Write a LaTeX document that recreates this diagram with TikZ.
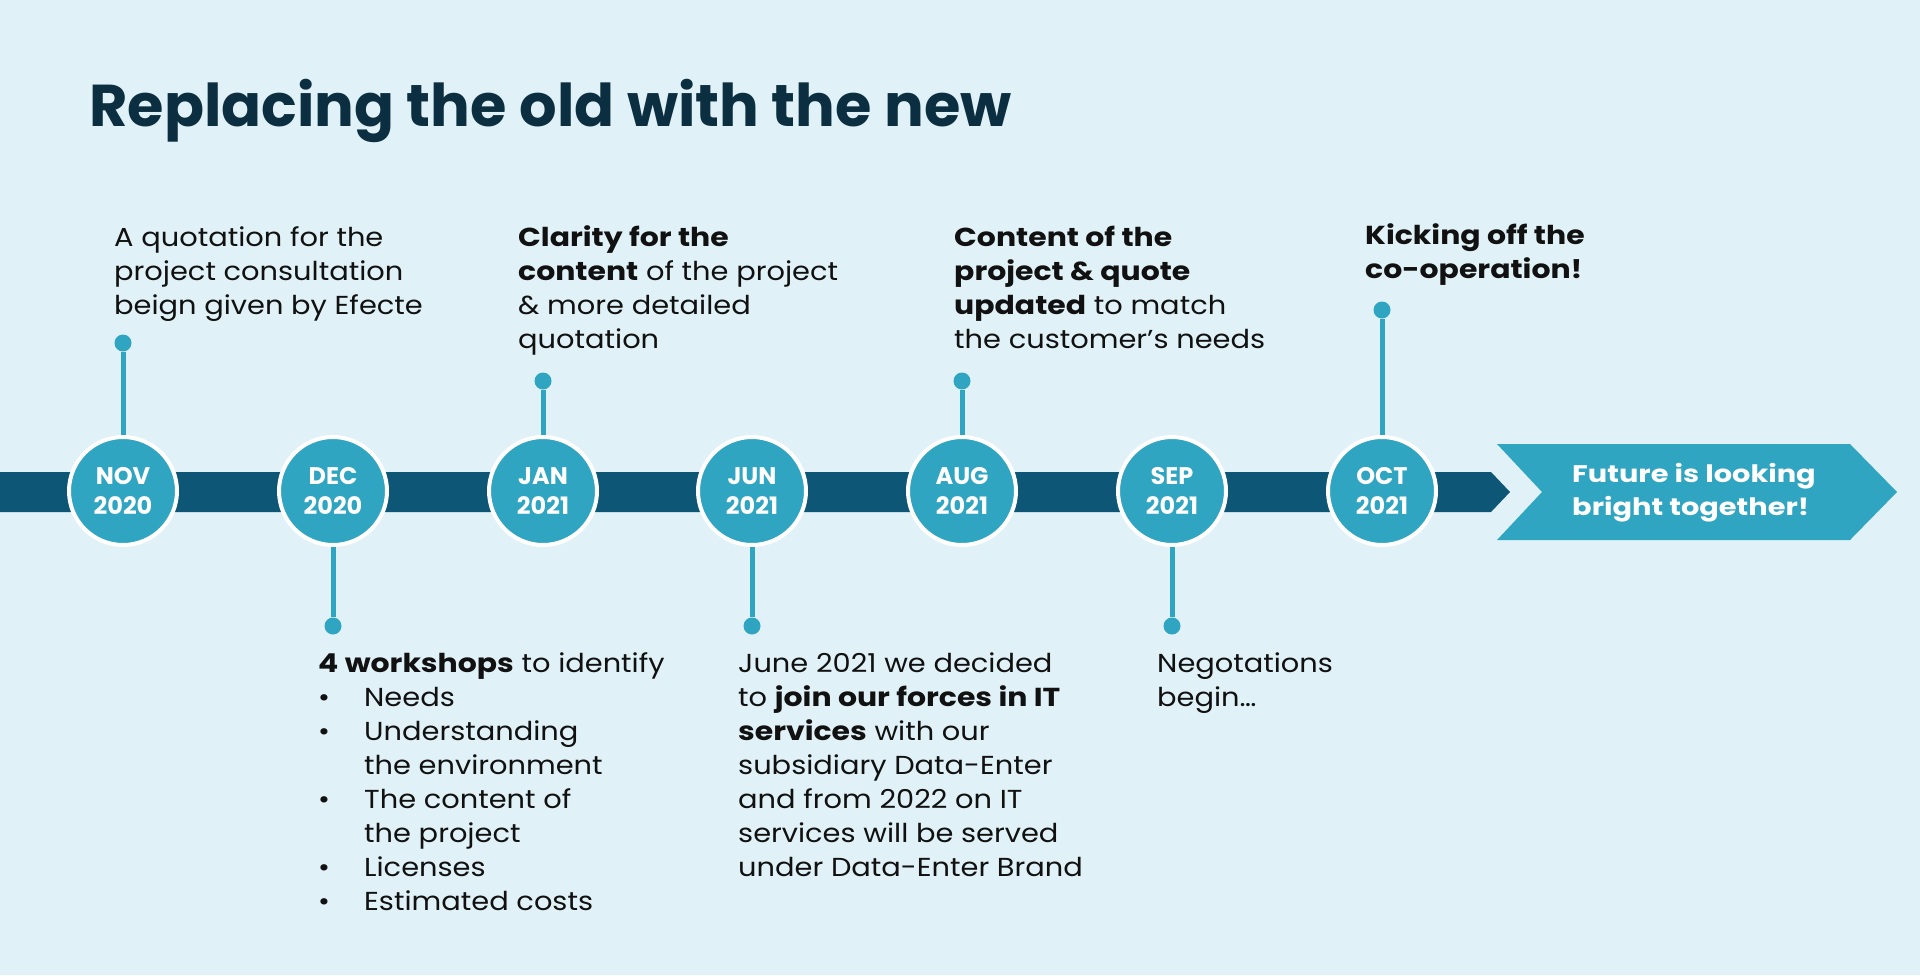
\documentclass[tikz,border=0pt]{standalone}
\usepackage{fontspec}
\setmainfont{Poppins}[FakeStretch=1.11,BoldFeatures={FakeStretch=1.15}]
\newfontfamily\headfont{Poppins}
\newfontfamily\futurefont{Poppins}[FakeStretch=1.2]
\usepackage{xcolor}
\usetikzlibrary{positioning}
\definecolor{bgblue}{HTML}{E0F2F7}
\definecolor{barblue}{HTML}{0E5675}
\definecolor{dotblue}{HTML}{2FA5C2}
\definecolor{titleblue}{HTML}{0B2F40}
\definecolor{ink}{HTML}{111111}
\newcommand{\itm}{\makebox[46pt][l]{\textbullet}}
\newcommand{\ind}{\makebox[46pt][l]{}}

\begin{document}
\begin{tikzpicture}[x=1pt,y=-1pt,
  month/.style={circle,fill=dotblue,draw=white,line width=4pt,minimum size=108pt,inner sep=0pt,
    text=white,align=center,font=\headfont\bfseries\fontsize{24}{30}\selectfont},
  pin/.style={circle,fill=dotblue,minimum size=17pt,inner sep=0pt},
  stem/.style={draw=dotblue,line width=5pt},
  note/.style={anchor=north west,inner sep=0pt,align=left,text=ink,font=\fontsize{26}{34}\selectfont}]
  \path[use as bounding box,fill=bgblue] (0,0) rectangle (1920,975);
  \node[anchor=base west,inner sep=0pt,text=titleblue,font=\headfont\bfseries\fontsize{59}{72}\selectfont] (title) at (89,126.7) {Replacing the old with the new};
  % timeline bar and the closing chevron
  \fill[barblue] (0,472) -- (1491,472) -- (1510,492) -- (1491,512) -- (0,512) -- cycle;
  \fill[dotblue] (1497,444) -- (1850,444) -- (1897,492) -- (1850,540) -- (1497,540) -- (1542,492) -- cycle;
  \node[anchor=north west,inner sep=0pt,align=left,text=white,font=\futurefont\bfseries\fontsize{24}{33}\selectfont] (future) at (1572,458.9) {\strut Future is looking\\bright together!};
  % months
  \node[month] (nov) at (123,491) {NOV\\2020};
  \node[month] (dec) at (333,491) {DEC\\2020};
  \node[month] (jan) at (543,491) {JAN\\2021};
  \node[month] (jun) at (752,491) {JUN\\2021};
  \node[month] (aug) at (962,491) {AUG\\2021};
  \node[month] (sep) at (1172,491) {SEP\\2021};
  \node[month] (oct) at (1382,491) {OCT\\2021};
  \node[pin] (novdot) at (123,343) {};
  \node[pin] (decdot) at (333,626) {};
  \node[pin] (jandot) at (543,381) {};
  \node[pin] (jundot) at (752,626) {};
  \node[pin] (augdot) at (962,381) {};
  \node[pin] (sepdot) at (1172,626) {};
  \node[pin] (octdot) at (1382,310) {};
  \draw[stem] (nov) -- (novdot);
  \draw[stem] (dec) -- (decdot);
  \draw[stem] (jan) -- (jandot);
  \draw[stem] (jun) -- (jundot);
  \draw[stem] (aug) -- (augdot);
  \draw[stem] (sep) -- (sepdot);
  \draw[stem] (oct) -- (octdot);
  % texts above
  \node[note] (novtxt) at (114,222.2) {\strut A quotation for the\\project consultation\\beign given by Efecte};
  \node[note] (jantxt) at (518,222.2) {\strut\textbf{Clarity for the}\\\textbf{content} of the project\\\& more detailed\\quotation};
  \node[note] (augtxt) at (954,222.2) {\strut\textbf{Content of the}\\\textbf{project \& quote}\\\textbf{updated} to match\\the customer’s needs};
  \node[note] (octtxt) at (1365,220.2) {\strut\textbf{Kicking off the}\\\textbf{co-operation!}};
  % texts below
  \node[note] (dectxt) at (318,648.2) {\strut\textbf{4 workshops} to identify\\\itm Needs\\\itm Understanding\\\ind the environment\\\itm The content of\\\ind the project\\\itm Licenses\\\itm Estimated costs};
  \node[note] (juntxt) at (738,648.2) {\strut June 2021 we decided\\to \textbf{join our forces in IT}\\\textbf{services} with our\\subsidiary Data-Enter\\and from 2022 on IT\\services will be served\\under Data-Enter Brand};
  \node[note] (septxt) at (1157,648.2) {\strut Negotations\\begin…};
\end{tikzpicture}
\end{document}
